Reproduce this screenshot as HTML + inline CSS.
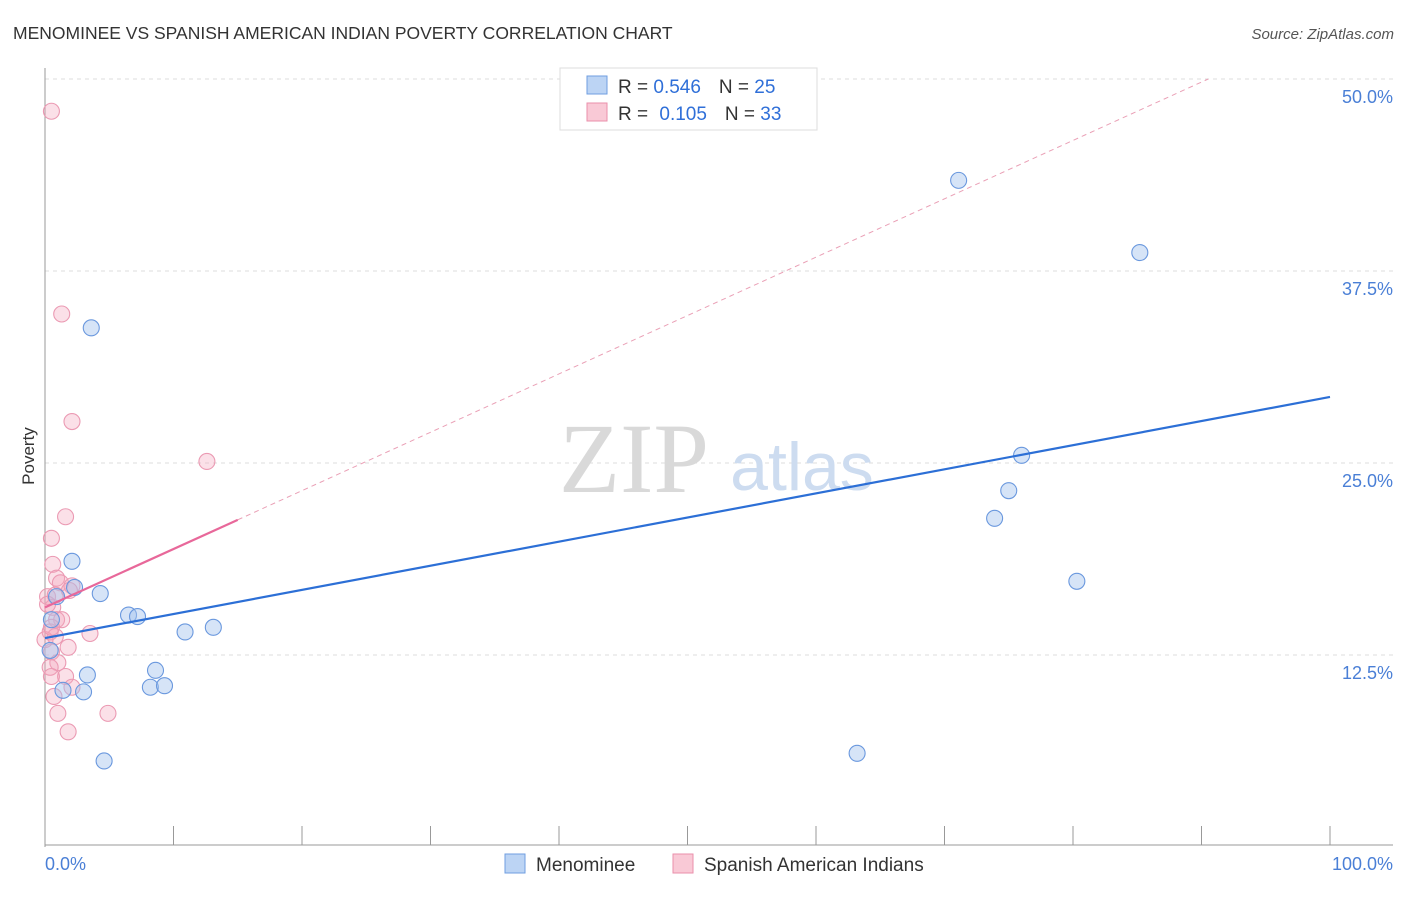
<!DOCTYPE html>
<html><head><meta charset="utf-8"><style>
body{margin:0;background:#fff;font-family:"Liberation Sans",sans-serif}
</style></head><body>
<svg id="c" width="1406" height="892" font-family="Liberation Sans, sans-serif">
<text x="13" y="39" font-size="17.5" fill="#333">MENOMINEE VS SPANISH AMERICAN INDIAN POVERTY CORRELATION CHART</text>
<text x="1394" y="39" font-size="15" fill="#555" font-style="italic" text-anchor="end">Source: ZipAtlas.com</text>
<g id="grid"></g>
<text x="634" y="492" font-size="100" fill="#d9d9d9" style="font-family:'Liberation Serif',serif" text-anchor="middle">ZIP</text>
<text x="802" y="490" font-size="68" fill="#cddcf0" text-anchor="middle">atlas</text>
<g id="pts"></g>
<g id="trend"></g>
<text x="34" y="456" font-size="17" fill="#333" transform="rotate(-90 34 456)" text-anchor="middle">Poverty</text>
<text x="45" y="870" font-size="18" fill="#4a7fd6">0.0%</text>
<text x="1393" y="870" font-size="18" fill="#4a7fd6" text-anchor="end">100.0%</text>
<g>
<rect x="560" y="68" width="257" height="62" fill="#fff" stroke="#ddd"/>
<rect x="587" y="76" width="20" height="18" fill="#bcd4f4" stroke="#6f9ee0"/>
<rect x="587" y="103" width="20" height="18" fill="#f9c9d6" stroke="#ea8fab"/>
<text x="618" y="93" font-size="19" fill="#333">R = <tspan fill="#2f6fd8">0.546</tspan><tspan dx="18">N = </tspan><tspan fill="#2f6fd8">25</tspan></text>
<text x="618" y="120" font-size="19" fill="#333">R = <tspan dx="6" fill="#2f6fd8">0.105</tspan><tspan dx="18">N = </tspan><tspan fill="#2f6fd8">33</tspan></text>
</g>
<g>
<rect x="505" y="854" width="20" height="19" fill="#bcd4f4" stroke="#6f9ee0"/>
<text x="536" y="871" font-size="19" fill="#333">Menominee</text>
<rect x="673" y="854" width="20" height="19" fill="#f9c9d6" stroke="#ea8fab"/>
<text x="704" y="871" font-size="19" fill="#333">Spanish American Indians</text>
</g>
</svg>
<script>
const blueX=[71.1,85.2,3.6,76.0,75.0,73.9,80.3,2.1,4.3,2.3,6.5,7.2,10.9,13.1,0.5,0.4,3.3,8.6,8.2,9.3,3.0,1.4,4.6,63.2,0.9];
const blueY=[43.4,38.7,33.8,25.5,23.2,21.4,17.3,18.6,16.5,16.9,15.1,15.0,14.0,14.3,14.8,12.8,11.2,11.5,10.4,10.5,10.1,10.2,5.6,6.1,16.3];
const pinkX=[0.5,1.3,2.1,12.6,1.6,0.5,0.6,0.9,1.2,2.1,0.2,0.8,0.6,0.9,1.3,3.5,0.4,0.8,1.8,0.5,1.0,0.4,1.6,0.5,2.1,0.7,1.0,4.9,1.8,0,1.9,0.5,0.2];
const pinkY=[47.9,34.7,27.7,25.1,21.5,20.1,18.4,17.5,17.2,17.0,16.3,16.4,15.6,14.8,14.8,13.9,14.0,13.7,13.0,12.7,12.0,11.7,11.1,11.1,10.4,9.8,8.7,8.7,7.5,13.5,16.7,14.3,15.8];
const yTicks=[12.5,25,37.5,50];
const blueTrend=[13.6,29.3];
const pinkTrend=[15.6,21.3];
const pinkSolidEnd=15;
const xs=v=>45+v*12.85, ys=v=>847-v*15.36;
const NS="http://www.w3.org/2000/svg";
function mk(t,a,p){const e=document.createElementNS(NS,t);for(const k in a)e.setAttribute(k,a[k]);p.appendChild(e);return e;}
const g=document.getElementById('grid');
yTicks.forEach(t=>{
 const l=mk('line',{x1:45,x2:1393,y1:ys(t),y2:ys(t),stroke:'#ddd','stroke-dasharray':'4,4'},g);
 
 
 const tx=mk('text',{x:1393,y:ys(t)+24,'font-size':18,fill:'#4a7fd6','text-anchor':'end'},g);
 tx.textContent=t.toFixed(1)+'%';
 
 
});
mk('line',{x1:45,x2:45,y1:68,y2:847,stroke:'#999'},g);
mk('line',{x1:45,x2:1393,y1:845,y2:845,stroke:'#999'},g);
for(let i=0;i<=10;i++){const x=xs(i*10);mk('line',{x1:x,x2:x,y1:826,y2:845,stroke:'#999'},g);}
const p=document.getElementById('pts');
pinkX.forEach((x,i)=>{
 const c=mk('circle',{cx:xs(x),cy:ys(pinkY[i]),r:8,fill:'rgba(244,165,190,0.35)',stroke:'#eb9ab3','stroke-width':1.1},p);
 
 
});
blueX.forEach((x,i)=>{
 const c=mk('circle',{cx:xs(x),cy:ys(blueY[i]),r:8,fill:'rgba(165,196,238,0.45)',stroke:'#6a98de','stroke-width':1.1},p);
 
 
});
const tr=document.getElementById('trend');
const b=mk('line',{x1:xs(0),y1:ys(blueTrend[0]),x2:xs(100),y2:ys(blueTrend[1]),stroke:'#2c6fd6','stroke-width':2.2},tr);


const slope=(pinkTrend[1]-pinkTrend[0])/pinkSolidEnd;
const xEnd=(50-pinkTrend[0])/slope;
const pd=mk('line',{x1:xs(pinkSolidEnd),y1:ys(pinkTrend[1]),x2:xs(xEnd),y2:ys(50),stroke:'#eaa0b6','stroke-width':1,'stroke-dasharray':'5,4'},tr);


const ps=mk('line',{x1:xs(0),y1:ys(pinkTrend[0]),x2:xs(pinkSolidEnd),y2:ys(pinkTrend[1]),stroke:'#e8689a','stroke-width':2.2},tr);


</script>
</body></html>
